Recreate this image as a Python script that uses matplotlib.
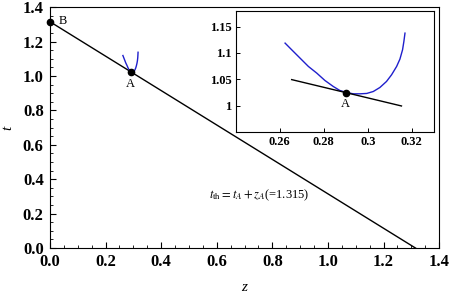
import matplotlib
matplotlib.use("Agg")
import matplotlib.pyplot as plt
from matplotlib.ticker import MultipleLocator

plt.rcParams["font.family"] = ["Liberation Serif", "DejaVu Serif"]
plt.rcParams["mathtext.fontset"] = "stix"

# threshold line t = t_th - z
T_TH = 1.315
line_z = [0.0, T_TH]
line_t = [T_TH, 0.0]

# point A and B
z_a, t_a = 0.29, 1.025
z_b, t_b = 0.0, 1.315

# blue curve around A
curve_z = [0.2624, 0.2654, 0.2692, 0.2730, 0.2768, 0.2805, 0.2843, 0.2873, 0.2904,
           0.2934, 0.2964, 0.2995, 0.3025, 0.3055, 0.3085, 0.3108, 0.3131, 0.3146,
           0.3158, 0.3164, 0.3169]
curve_t = [1.1187, 1.1061, 1.0903, 1.0745, 1.0619, 1.0480, 1.0366, 1.0290, 1.0252,
           1.0227, 1.0227, 1.0234, 1.0271, 1.0347, 1.0461, 1.0587, 1.0745, 1.0884,
           1.1061, 1.1218, 1.1376]

# short piece of the tangent line in the inset
tan_z = [0.2654, 0.3153]
tan_t = [T_TH - 0.2654, T_TH - 0.3153]

main_ticks = [0.0, 0.2, 0.4, 0.6, 0.8, 1.0, 1.2, 1.4]
main_labels = ["0.0", "0.2", "0.4", "0.6", "0.8", "1.0", "1.2", "1.4"]
inset_xticks = [0.26, 0.28, 0.30, 0.32]
inset_xlabels = ["0.26", "0.28", "0.3", "0.32"]
inset_yticks = [1.0, 1.05, 1.1, 1.15]
inset_ylabels = ["1", "1.05", "1.1", "1.15"]

blue = "#1f1fcc"

fig = plt.figure(figsize=(4.5, 2.95), dpi=100)
ax = fig.add_axes([0.111, 0.159, 0.865, 0.817])

ax.plot(line_z, line_t, color="black", lw=1.0)
ax.plot(curve_z, curve_t, color=blue, lw=1.0)
ax.plot([z_a, z_b], [t_a, t_b], "o", color="black", ms=4.5, clip_on=False, zorder=5)
ax.text(z_a, t_a - 0.035, "A", ha="center", va="top", fontsize=9)
ax.text(z_b + 0.03, t_b + 0.005, "B", ha="left", va="center", fontsize=9)
ax.text(0.572, 0.308, r"$t_{\mathrm{th}}=t_A+z_A$(=1.315)", ha="left", va="center", fontsize=9)

ax.set_xlim(0, 1.4)
ax.set_ylim(0, 1.4)
ax.set_xticks(main_ticks)
ax.set_xticklabels(main_labels, fontweight="bold", fontsize=12)
ax.set_yticks(main_ticks)
ax.set_yticklabels(main_labels, fontweight="bold", fontsize=12)
ax.xaxis.set_minor_locator(MultipleLocator(0.05))
ax.yaxis.set_minor_locator(MultipleLocator(0.05))
ax.tick_params(which="major", direction="in", length=4, width=0.8)
ax.tick_params(axis="x", which="major", pad=4.5)
ax.tick_params(axis="y", which="major", pad=4.5)
ax.tick_params(which="minor", direction="in", length=2.5, width=0.6)
ax.set_xlabel("z", style="italic", fontsize=11, labelpad=8)
ax.set_ylabel("t", style="italic", fontsize=11, labelpad=6)

ins = fig.add_axes([0.524, 0.5536, 0.440, 0.410])
ins.plot(curve_z, curve_t, color=blue, lw=1.0)
ins.plot(tan_z, tan_t, color="black", lw=1.0)
ins.plot([z_a], [t_a], "o", color="black", ms=4.5, zorder=5)
ins.text(z_a, t_a - 0.011, "A", ha="center", va="top", fontsize=9)
ins.set_xlim(0.24, 0.33)
ins.set_ylim(0.951, 1.18)
ins.set_xticks(inset_xticks)
ins.set_xticklabels(inset_xlabels, fontweight="bold", fontsize=9)
ins.set_yticks(inset_yticks)
ins.set_yticklabels(inset_ylabels, fontweight="bold", fontsize=9)
ins.tick_params(direction="in", length=3, width=0.7, pad=3)

fig.savefig("out.png", dpi=100)
